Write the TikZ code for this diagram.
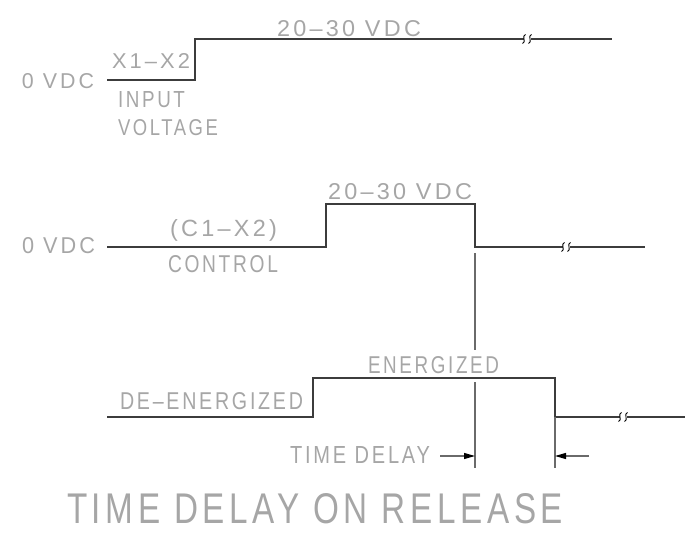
\documentclass[tikz,border=0pt]{standalone}
\usepackage{fontspec}
\usepackage{graphicx}
\setmainfont{Liberation Sans}[LetterSpace=14]
\usetikzlibrary{arrows.meta}
\definecolor{txtgray}{HTML}{A6A6A6}
\definecolor{wavegray}{HTML}{3C3C3C}
\definecolor{extgray}{HTML}{6A6A6A}
\newcommand{\cadt}[3]{\resizebox{#1pt}{#2pt}{#3}}
\tikzset{
  lbl/.style={anchor=base west, inner sep=0pt, outer sep=0pt, text=txtgray},
  wave/.style={draw=wavegray, line width=1.3pt, line join=miter},
  extline/.style={draw=extgray, line width=1.3pt},
  brk/.style={draw=black, line width=0.9pt},
  dimarrow/.style={draw=extgray, line width=1.1pt, -{Triangle[length=11pt,width=6pt,color=black]}}
}
\begin{document}
\begin{tikzpicture}[x=1pt,y=-1pt]
\useasboundingbox (0,0) rectangle (694,533);
% ---- texts
\node[lbl] (t1) at (277,36) {\cadt{144}{16}{20–30 VDC}};
\node[lbl] (t2) at (112,68) {\cadt{78}{15}{X1–X2}};
\node[lbl] (t3) at (22,88) {\cadt{72}{15}{0 VDC}};
\node[lbl] (t4) at (118,107) {\cadt{67}{16}{INPUT}};
\node[lbl] (t5) at (118,135) {\cadt{100}{16}{VOLTAGE}};
\node[lbl] (t6) at (328,199) {\cadt{144}{16}{20–30 VDC}};
\node[lbl] (t7) at (22,253) {\cadt{73}{16}{0 VDC}};
\node[lbl] (t8) at (170,236) {\cadt{107}{17}{(C1–X2)}};
\node[lbl] (t9) at (168,272) {\cadt{110}{17}{CONTROL}};
\node[lbl] (t10) at (368,373) {\cadt{131}{17}{ENERGIZED}};
\node[lbl] (t11) at (120,409) {\cadt{183}{17}{DE–ENERGIZED}};
\node[lbl] (t12) at (290,463) {\cadt{140}{17}{TIME DELAY}};
\node[lbl] (t13) at (67,523) {\cadt{496}{30}{TIME DELAY ON RELEASE}};
% ---- top waveform
\coordinate (a0) at (107,80);
\coordinate (a1) at (195,80);
\coordinate (a2) at (195,39);
\coordinate (a3) at (524,39);
\coordinate (a4) at (531,39);
\coordinate (a5) at (612,39);
\draw[wave] (a0) -- (a1) -- (a2) -- (a3);
\draw[wave] (a4) -- (a5);
% ---- control waveform
\coordinate (b0) at (107,247);
\coordinate (b1) at (326,247);
\coordinate (b2) at (326,204);
\coordinate (b3) at (475,204);
\coordinate (b4) at (475,247);
\coordinate (b5) at (563,247);
\coordinate (b6) at (570,247);
\coordinate (b7) at (645,247);
\draw[wave] (b0) -- (b1) -- (b2) -- (b3) -- (b4) -- (b5);
\draw[wave] (b6) -- (b7);
% ---- relay waveform
\coordinate (c0) at (107,417);
\coordinate (c1) at (313,417);
\coordinate (c2) at (313,378);
\coordinate (c3) at (555,378);
\coordinate (c4) at (555,417);
\coordinate (c5) at (620,417);
\coordinate (c6) at (627,417);
\coordinate (c7) at (685,417);
\draw[wave] (c0) -- (c1) -- (c2) -- (c3) -- (c4) -- (c5);
\draw[wave] (c6) -- (c7);
% ---- extension lines
\coordinate (e1) at (475,253);
\coordinate (e2) at (475,350);
\coordinate (e3) at (475,382);
\coordinate (e4) at (475,468);
\coordinate (e5) at (555,468);
\draw[extline] (e1) -- (e2);
\draw[extline] (e3) -- (e4);
\draw[extline] (c4) -- (e5);
% ---- dimension arrows
\coordinate (d1) at (440,456);
\coordinate (d2) at (475,456);
\coordinate (d3) at (589,456);
\coordinate (d4) at (555,456);
\draw[dimarrow] (d1) -- (d2);
\draw[dimarrow] (d3) -- (d4);
% ---- break marks
\foreach \bx/\by in {524/39, 530/39, 563/247, 569/247, 620/417, 626/417}{
  \draw[brk] (\bx+1.5,\by-4.5) .. controls (\bx-3,\by-3.5) and (\bx+3,\by+3.5) .. (\bx-1.5,\by+4.5);
}
\end{tikzpicture}
\end{document}
